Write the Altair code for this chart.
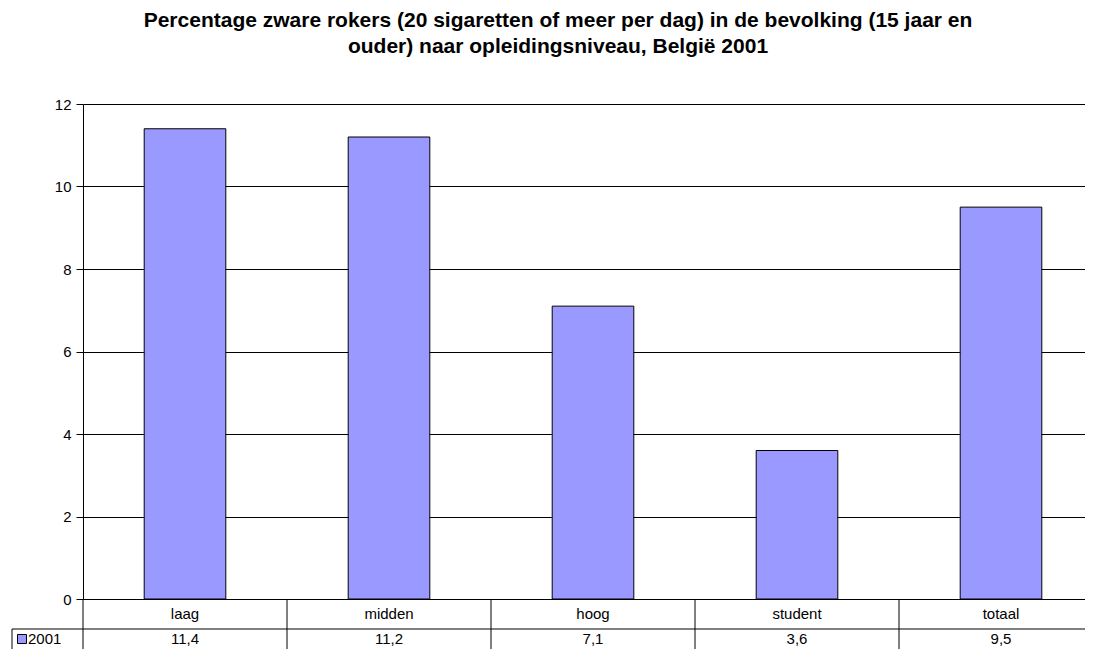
import altair as alt
import pandas as pd

# ---- data ----
categories = ["laag", "midden", "hoog", "student", "totaal"]
values = [11.4, 11.2, 7.1, 3.6, 9.5]
series_name = "2001"
y_ticks = [0, 2, 4, 6, 8, 10, 12]
title_text = ("Percentage zware rokers (20 sigaretten of meer per dag) in de bevolking (15 jaar en\n"
              "ouder) naar opleidingsniveau, België 2001")

labels = [f"{v:.1f}".replace(".", ",") for v in values]
df = pd.DataFrame({"cat": categories, "value": values, "label": labels})

FONT = "Liberation Sans"
W, H = 1002, 495
STEP = 204
ROW2 = H + 40

x_enc = alt.X("cat:N", sort=categories,
              scale=alt.Scale(range=[0, STEP * len(categories)], paddingInner=0.6, paddingOuter=0.3),
              axis=None)

base = alt.Chart(df)

bars = base.mark_bar(color="#9999FF", stroke="black", strokeWidth=1, clip=True).encode(
    x=x_enc,
    y=alt.Y("value:Q", title="",
            scale=alt.Scale(domain=[0, 12], nice=False),
            axis=alt.Axis(values=y_ticks, format="d", grid=True, gridColor="black", gridWidth=1,
                          gridOpacity=1, domainColor="black", domainWidth=1, tickColor="black",
                          tickSize=7, tickWidth=1, labelFont=FONT, labelFontSize=15,
                          labelColor="black", labelPadding=5)),
)

cat_labels = base.mark_text(font=FONT, fontSize=15, color="black", baseline="middle").encode(
    x=x_enc, y=alt.value(H + 15), text="cat:N")

val_labels = base.mark_text(font=FONT, fontSize=15, color="black", baseline="middle").encode(
    x=x_enc, y=alt.value(ROW2), text="label:N")

vlines = base.mark_rule(color="black", strokeWidth=1, xOffset=-STEP / 2).encode(
    x=x_enc, y=alt.value(H), y2=alt.value(H + 80))

one = alt.Chart(pd.DataFrame({"s": [series_name]}))

hline = one.mark_rule(color="black", strokeWidth=1).encode(
    x=alt.value(-71), x2=alt.value(W), y=alt.value(H + 30))
left_border = one.mark_rule(color="black", strokeWidth=1).encode(
    x=alt.value(-71), y=alt.value(H + 30), y2=alt.value(H + 80))

legend_sq = one.mark_square(size=81, color="#9999FF", stroke="black", strokeWidth=1,
                            opacity=1, filled=True).encode(
    x=alt.value(-61), y=alt.value(ROW2))
legend_txt = one.mark_text(font=FONT, fontSize=15, color="black", align="left",
                           baseline="middle").encode(
    x=alt.value(-55), y=alt.value(ROW2), text="s:N")

title = alt.Chart(pd.DataFrame({"t": [title_text]})).mark_text(
    font=FONT, fontSize=21, fontWeight="bold", color="black", align="center",
    baseline="alphabetic", lineBreak="\n", lineHeight=26).encode(
    x=alt.value(475), y=alt.value(-77), text="t:N")

chart = alt.layer(bars, vlines, hline, left_border, cat_labels, val_labels,
                  legend_sq, legend_txt, title).properties(
    width=W, height=H,
    autosize=alt.AutoSizeParams(type="none"),
    padding={"left": 75, "top": 96, "right": 0, "bottom": 50},
    background="white",
).configure_view(strokeWidth=0)

chart.save("out.html", embed_options={"renderer": "svg", "actions": False})
